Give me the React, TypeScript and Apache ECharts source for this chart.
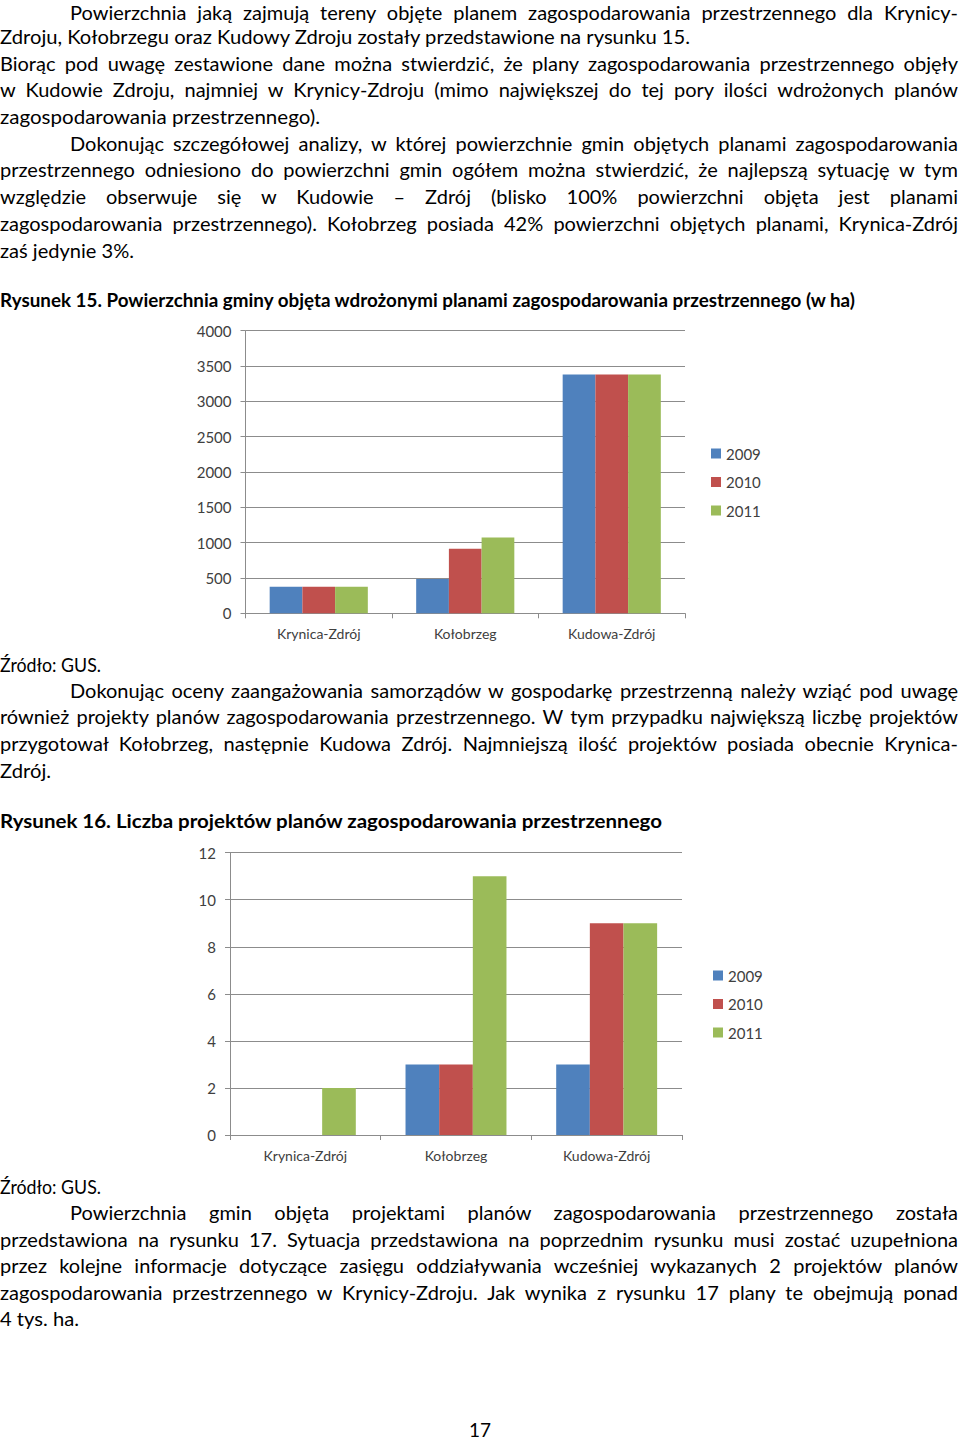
import React, { useEffect, useLayoutEffect, useRef } from "react";
import * as echarts from "echarts";

// ---------- chart data ----------
const categories = ["Krynica-Zdrój", "Kołobrzeg", "Kudowa-Zdrój"];
const years = ["2009", "2010", "2011"];
const colors = ["#4F81BD", "#C0504D", "#9BBB59"];

const area2009 = [377, 485, 3380];
const area2010 = [377, 912, 3380];
const area2011 = [377, 1072, 3380];

const proj2009 = [0, 3, 3];
const proj2010 = [0, 3, 9];
const proj2011 = [2, 11, 9];

// ---------- page text (line, x0, x1, centreY, justify, bold) ----------
type L = [string, number, number, number, boolean, boolean];
const lines: L[] = [
  ["Powierzchnia jaką zajmują tereny objęte planem zagospodarowania przestrzennego dla Krynicy-", 70, 958, 13, true, false],
  ["Zdroju, Kołobrzegu oraz Kudowy Zdroju zostały przedstawione na rysunku 15.", 0, 690, 37, false, false],
  ["Biorąc pod uwagę zestawione dane można stwierdzić, że plany zagospodarowania przestrzennego objęły", 0, 958, 64, true, false],
  ["w Kudowie Zdroju, najmniej w Krynicy-Zdroju (mimo największej do tej pory ilości wdrożonych planów", 0, 958, 90, true, false],
  ["zagospodarowania przestrzennego).", 0, 320, 117, false, false],
  ["Dokonując szczegółowej analizy, w której powierzchnie gmin objętych planami zagospodarowania", 70, 958, 144, true, false],
  ["przestrzennego odniesiono do powierzchni gmin ogółem można stwierdzić, że najlepszą sytuację w tym", 0, 958, 170, true, false],
  ["względzie obserwuje się w Kudowie – Zdrój (blisko 100% powierzchni objęta jest planami", 0, 958, 197, true, false],
  ["zagospodarowania przestrzennego). Kołobrzeg posiada 42% powierzchni objętych planami, Krynica-Zdrój", 0, 958, 224, true, false],
  ["zaś jedynie 3%.", 0, 134, 251, false, false],
  ["Rysunek 15. Powierzchnia gminy objęta wdrożonymi planami zagospodarowania przestrzennego (w ha)", 0, 855, 301, false, true],
  ["Źródło: GUS.", 0, 101, 665, false, false],
  ["Dokonując oceny zaangażowania samorządów w gospodarkę przestrzenną należy wziąć pod uwagę", 70, 958, 691, true, false],
  ["również projekty planów zagospodarowania przestrzennego. W tym przypadku największą liczbę projektów", 0, 958, 717, true, false],
  ["przygotował Kołobrzeg, następnie Kudowa Zdrój. Najmniejszą ilość projektów posiada obecnie Krynica-", 0, 958, 744, true, false],
  ["Zdrój.", 0, 51, 771, false, false],
  ["Rysunek 16. Liczba projektów planów zagospodarowania przestrzennego", 0, 662, 822, false, true],
  ["Źródło: GUS.", 0, 101, 1187, false, false],
  ["Powierzchnia gmin objęta projektami planów zagospodarowania przestrzennego została", 70, 958, 1213, true, false],
  ["przedstawiona na rysunku 17. Sytuacja przedstawiona na poprzednim rysunku musi zostać uzupełniona", 0, 958, 1240, true, false],
  ["przez kolejne informacje dotyczące zasięgu oddziaływania wcześniej wykazanych 2 projektów planów", 0, 958, 1266, true, false],
  ["zagospodarowania przestrzennego w Krynicy-Zdroju. Jak wynika z rysunku 17 plany te obejmują ponad", 0, 958, 1293, true, false],
  ["4 tys. ha.", 0, 79, 1319, false, false],
  ["17", 469, 491, 1430, false, false],
];

const FONT = "Lato, 'Open Sans', sans-serif";

function Line({ l }: { l: L }) {
  const ref = useRef<HTMLSpanElement>(null);
  const [text, x0, x1, y, justify, bold] = l;
  useLayoutEffect(() => {
    const el = ref.current;
    if (!el) return;
    el.style.wordSpacing = "0px";
    el.style.transform = "none";
    const w = el.getBoundingClientRect().width;
    const target = x1 - x0;
    const spaces = (text.match(/ /g) || []).length;
    if (justify && spaces > 0 && w < target) {
      el.style.wordSpacing = (target - w) / spaces + "px";
    } else if (w > 0) {
      el.style.transform = `scaleX(${target / w})`;
    }
  }, [text, x0, x1, justify]);
  return (
    <span
      ref={ref}
      style={{
        position: "absolute",
        left: x0,
        top: y - 11,
        lineHeight: "20px",
        height: 20,
        fontSize: bold ? 18.5 : 20,
        fontWeight: bold ? 700 : 400,
        fontFamily: FONT,
        color: "#000",
        whiteSpace: "nowrap",
        transformOrigin: "0 0",
        display: "inline-block",
      }}
    >
      {text}
    </span>
  );
}

function makeOption(
  data: number[][],
  max: number,
  interval: number,
  grid: any,
  legendLeft: number,
  legendTop: number
) {
  const gray = "#8c8c8c";
  const labelStyle = { color: "#404040", fontFamily: FONT, fontSize: 14 };
  return {
    animation: false,
    backgroundColor: "#fff",
    grid,
    legend: {
      data: years,
      orient: "vertical",
      left: legendLeft,
      top: legendTop,
      icon: "rect",
      itemWidth: 10,
      itemHeight: 10,
      itemGap: 13.5,
      textStyle: { ...labelStyle, fontSize: 15, lineHeight: 14 },
    },
    xAxis: {
      type: "category",
      data: categories,
      axisLine: { show: true, lineStyle: { color: gray, width: 1 } },
      axisTick: { show: true, length: 5, lineStyle: { color: gray } },
      axisLabel: { ...labelStyle, margin: 13 },
    },
    yAxis: {
      type: "value",
      min: 0,
      max,
      interval,
      axisLine: { show: true, lineStyle: { color: gray, width: 1 } },
      axisTick: { show: true, length: 5, lineStyle: { color: gray } },
      axisLabel: { ...labelStyle, fontSize: 15, margin: 14, formatter: (v: number) => String(v) },
      splitLine: { show: true, lineStyle: { color: gray, width: 1 } },
    },
    series: data.map((d, i) => ({
      name: years[i],
      type: "bar",
      data: d,
      barGap: "0%",
      barCategoryGap: "33%",
      itemStyle: { color: colors[i] },
    })),
  };
}

function Chart({ option, style }: { option: any; style: React.CSSProperties }) {
  const ref = useRef<HTMLDivElement>(null);
  useEffect(() => {
    if (!ref.current) return;
    const c = echarts.init(ref.current, undefined, { renderer: "svg" });
    c.setOption(option);
    return () => c.dispose();
  }, [option]);
  return <div ref={ref} style={{ position: "absolute", ...style }} />;
}

const opt1 = makeOption(
  [area2009, area2010, area2011],
  4000,
  500,
  { left: 65.5, top: 15.7, width: 439.5, height: 282.6 },
  526,
  126
);
const opt2 = makeOption(
  [proj2009, proj2010, proj2011],
  12,
  2,
  { left: 50, top: 14.7, width: 452, height: 282.3 },
  528,
  125
);

export default function App() {
  useEffect(() => {
    document.body.style.margin = "0";
  }, []);
  return (
    <div
      style={{
        position: "absolute",
        left: 0,
        top: 0,
        width: 960,
        height: 1442,
        background: "#fff",
        overflow: "hidden",
      }}
    >
      <Chart option={opt1} style={{ left: 180, top: 315, width: 620, height: 340 }} />
      <Chart option={opt2} style={{ left: 180, top: 838, width: 620, height: 340 }} />
      {lines.map((l, i) => (
        <Line key={i} l={l} />
      ))}
    </div>
  );
}
